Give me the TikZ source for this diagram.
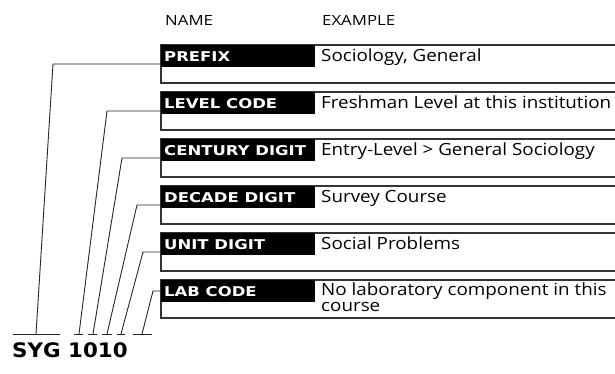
\documentclass[tikz,border=0pt]{standalone}
\usepackage{fontspec}
\setmainfont{Open Sans}
\newfontfamily\labfont[FakeStretch=1.22]{DejaVu Sans}
\newfontfamily\codefont[FakeStretch=1.07]{DejaVu Sans}
\newfontfamily\exfont[FakeStretch=1.12]{Open Sans}
\newfontfamily\hdfont[FakeStretch=1.2]{Open Sans}
\begin{document}
\begin{tikzpicture}[x=1pt,y=-1pt,
  boxline/.style={draw=black!80,line width=1.2pt},
  conn/.style={draw=black!85,line width=0.9pt},
  blk/.style={fill=black,draw=none,minimum width=154pt,minimum height=22pt,anchor=north west,inner sep=0pt},
  labtext/.style={anchor=base west,inner sep=0pt,text=white,font=\labfont\bfseries\fontsize{13.5}{14}\selectfont},
  extext/.style={anchor=base west,inner sep=0pt,font=\exfont\fontsize{16.8}{15.5}\selectfont,align=left},
  hdr/.style={anchor=base west,inner sep=0pt,font=\hdfont\fontsize{14}{14}\selectfont}]
\useasboundingbox (0,0) rectangle (615,373);
\fill[white] (0,0) rectangle (615,373);
% headers
\node[hdr] (hname) at (165,25) {NAME};
\node[hdr] (hex) at (322,25) {EXAMPLE};
% boxes
\foreach \i/\t/\lab/\ex in {0/45/PREFIX/{Sociology, General},
  1/92/LEVEL CODE/{Freshman Level at this institution},
  2/139/CENTURY DIGIT/{Entry-Level > General Sociology},
  3/186/DECADE DIGIT/{Survey Course},
  4/233/UNIT DIGIT/{Social Problems}} {
  \draw[boxline] (616,\t) -- (161,\t) -- (161,\t+38) -- (616,\t+38);
  \node[blk] (b\i) at (161,\t) {};
  \node[labtext] (l\i) at (164,\t+16) {\lab};
  \node[extext] (e\i) at (321,\t+16) {\ex};
}
\draw[boxline] (616,280) -- (161,280) -- (161,318) -- (616,318);
\node[blk] (b5) at (161,280) {};
\node[labtext] (l5) at (164,296) {LAB CODE};
\node[extext] (e5) at (321,311) {No laboratory component in this\\course};
% SYG text
\node[anchor=base west,inner sep=0pt,font=\codefont\bfseries\fontsize{20}{22}\selectfont] (code) at (12,357) {SYG 1010};
% connectors: id / y / bend x / bottom x / bar from / bar to
\foreach \i/\y/\bx/\dx/\ba/\bb in {0/64/53/36/13/60, 1/111/107/79/74/83, 2/158/122/93/88/97,
  3/205/137/107/102/112, 4/252/143/121/117/125, 5/291/153/142/133/152} {
  \coordinate (k\i) at (\bx,\y);
  \coordinate (d\i) at (\dx,334);
  \coordinate (p\i) at (\ba,334);
  \coordinate (q\i) at (\bb,334);
  \draw[conn] (b\i.west |- k\i) -- (k\i) -- (d\i);
  \draw[conn] (p\i) -- (q\i);
}
\end{tikzpicture}
\end{document}
